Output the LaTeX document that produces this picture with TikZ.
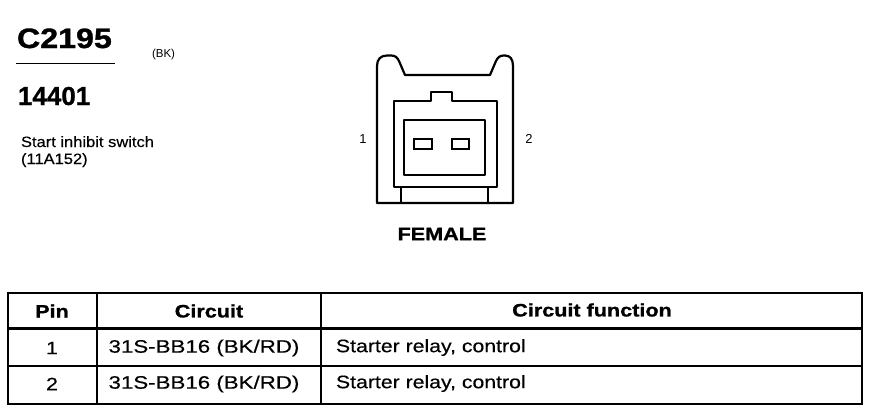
\documentclass[tikz,border=0pt]{standalone}
\usepackage{fontspec}
\setmainfont{Liberation Sans}
\newfontfamily\wideA[FakeStretch=1.18,FakeBold=0.4]{Liberation Sans}
\newfontfamily\wideAbold[FakeStretch=1.2,FakeBold=1.2]{Liberation Sans Bold}
\newfontfamily\wideBbold[FakeStretch=1.15,FakeBold=1.2]{Liberation Sans Bold}
\newfontfamily\plainbold[FakeBold=1.0]{Liberation Sans Bold}
\newfontfamily\wideC[FakeStretch=1.1,FakeBold=0.3]{Liberation Sans}
\begin{document}
\begin{tikzpicture}[x=1pt,y=-1pt,
  txt/.style={inner sep=0pt,outer sep=0pt},
  hdr/.style={txt,font=\wideAbold\fontsize{18}{20}\selectfont},
  cell/.style={txt,font=\wideA\fontsize{18}{20}\selectfont},
  pinlbl/.style={txt,font=\fontsize{13}{15}\selectfont},
  body/.style={line width=2.2pt,line join=round},
  grid/.style={line width=2.4pt}]
\useasboundingbox (0,0) rectangle (874,416);
% titles
\node[txt,anchor=base west,font=\wideBbold\fontsize{28}{30}\selectfont] (title) at (17,48) {C2195};
\node[txt,anchor=base west,font=\fontsize{11.5}{13}\selectfont] (color) at (152,57) {(BK)};
\draw[line width=1.6pt] (16,63.5) -- (115,63.5);
\node[txt,anchor=base west,font=\plainbold\fontsize{26}{28}\selectfont] (part) at (18,105) {14401};
\node[txt,anchor=base west,font=\wideC\fontsize{15}{17}\selectfont] (desc) at (21,147) {Start inhibit switch};
\node[txt,anchor=base west,font=\wideC\fontsize{15}{17}\selectfont] (code) at (21,164) {(11A152)};
% connector face
\draw[body] (377,203) -- (377,66) .. controls (377,59) and (381,55.5) .. (387,55.5)
  -- (391,55.5) .. controls (395,55.5) and (397,57) .. (399,61) -- (405,75) -- (490,75)
  -- (496,61) .. controls (498,57) and (500,55.5) .. (504,55.5) -- (505,55.5)
  .. controls (510,55.5) and (513,59) .. (513,66) -- (513,203) -- cycle;
\draw[body] (394,187) -- (394,101) -- (431,101) -- (431,92) -- (452,92) -- (452,101)
  -- (497,101) -- (497,187) -- cycle;
\draw[body] (401,187) -- (401,203);
\draw[body] (488,187) -- (488,203);
\draw[body] (404,120) rectangle (485,175);
\draw[line width=2pt] (414,139) rectangle (432,149);
\draw[line width=2pt] (452,139) rectangle (469,149);
\node[pinlbl] (p1) at (363,139) {1};
\node[pinlbl] (p2) at (529,139) {2};
\node[txt,font=\wideAbold\fontsize{18}{20}\selectfont] (fem) at (442,234) {FEMALE};
% table
\draw[grid] (8,293) rectangle (862,404);
\draw[grid] (8,328.5) -- (862,328.5);
\draw[grid] (8,366) -- (862,366);
\draw[grid] (97,293) -- (97,404);
\draw[grid] (321,293) -- (321,404);
\node[hdr] (hpin) at (52,311) {Pin};
\node[hdr] (hcir) at (209,311) {Circuit};
\node[hdr] (hfun) at (592,310) {Circuit function};
\node[cell] (r1pin) at (52,348) {1};
\node[cell,xscale=1.05] (r1cir) at (204,348) {31S-BB16 (BK/RD)};
\node[cell,anchor=west] (r1fun) at (336,347.5) {Starter relay, control};
\node[cell] (r2pin) at (52,384) {2};
\node[cell,xscale=1.05] (r2cir) at (204,384) {31S-BB16 (BK/RD)};
\node[cell,anchor=west] (r2fun) at (336,383.5) {Starter relay, control};
\end{tikzpicture}
\end{document}
